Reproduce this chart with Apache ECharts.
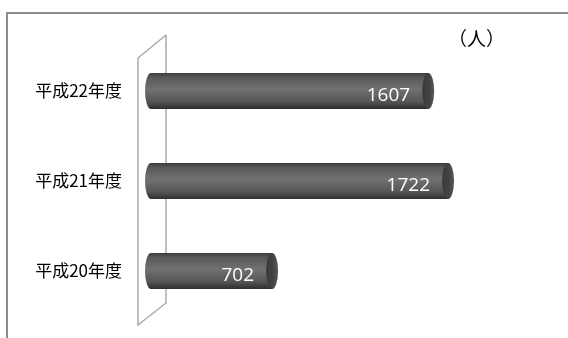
<!DOCTYPE html>
<html><head><meta charset="utf-8">
<script src="https://cdn.jsdelivr.net/npm/echarts@6/dist/echarts.min.js"></script>
<style>html,body{margin:0;padding:0;background:#fff}#c{width:568px;height:338px}</style>
</head><body><div id="c"></div>
<script>
const categories = ['平成22年度', '平成21年度', '平成20年度'];
const values = [1607, 1722, 702];
const unitLabel = '（人）';

const bodyGrad = new echarts.graphic.LinearGradient(0, 0, 0, 1, [
  {offset: 0, color: '#3c3c3c'},
  {offset: 0.12, color: '#585858'},
  {offset: 0.45, color: '#717171'},
  {offset: 0.8, color: '#555555'},
  {offset: 1, color: '#2e2e2e'}
]);
const capGrad = new echarts.graphic.LinearGradient(0, 0, 1, 0, [
  {offset: 0, color: '#3a3a3a'},
  {offset: 0.6, color: '#444444'},
  {offset: 1, color: '#5a5a5a'}
]);

const chart = echarts.init(document.getElementById('c'), null, {renderer: 'canvas'});
chart.setOption({
  animation: false,
  backgroundColor: '#fff',
  grid: {left: 151, right: 72, top: 46, bottom: 22, containLabel: false},
  xAxis: {type: 'value', min: 0, max: 2000, show: false},
  yAxis: {
    type: 'category', data: categories, inverse: true,
    axisLine: {show: false}, axisTick: {show: false},
    axisLabel: {margin: 29, color: '#000', fontSize: 17, fontFamily: 'Noto Sans CJK JP', padding: [24, 0, 0, 0]}
  },
  graphic: [
    {type: 'rect', z: 0, shape: {x: 7, y: 13, width: 600, height: 400}, style: {fill: 'none', stroke: '#8c8c8c', lineWidth: 2}},
    {type: 'polyline', z: 1, shape: {points: [[166, 35], [138, 58], [138, 325], [166, 303], [166, 35]]}, style: {fill: 'none', stroke: '#aaaaaa', lineWidth: 1.5}},
    {type: 'text', z: 5, left: 448, top: 29, style: {text: unitLabel, fontSize: 19, fontFamily: 'Noto Sans CJK JP', fill: '#000'}}
  ],
  series: [
    {
      type: 'bar', data: values, barWidth: 36, z: 2,
      itemStyle: {color: bodyGrad},
      label: {show: true, position: 'insideRight', distance: 18, offset: [0, 5], color: '#fff', fontSize: 19, fontFamily: 'Open Sans'}
    },
    {
      type: 'pictorialBar', data: values, barWidth: 36, barGap: '-100%', z: 1,
      symbol: 'circle', symbolSize: [12, 36], symbolPosition: 'start', symbolOffset: ['-50%', 0],
      itemStyle: {color: bodyGrad}
    },
    {
      type: 'pictorialBar', data: values, barWidth: 36, barGap: '-100%', z: 3,
      symbol: 'circle', symbolSize: [12, 36], symbolPosition: 'end', symbolOffset: ['50%', 0],
      itemStyle: {color: capGrad}
    }
  ]
});
</script></body></html>
